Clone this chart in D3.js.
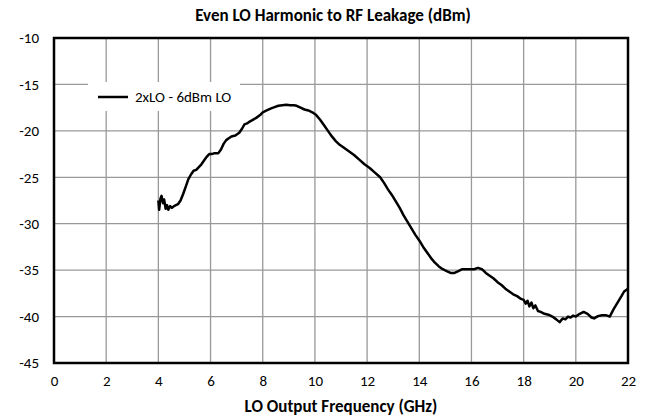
<!DOCTYPE html>
<html>
<head>
<meta charset="utf-8">
<script src="https://cdn.jsdelivr.net/npm/d3@7"></script>
<style>
  body { margin: 0; background: #fff; }
  text { font-family: Carlito, Lato, "Liberation Sans", sans-serif; }
</style>
</head>
<body>
<div id="chart"></div>
<script>
var title = "Even LO Harmonic to RF Leakage (dBm)";
var xTitle = "LO Output Frequency (GHz)";
var seriesName = "2xLO - 6dBm LO";

var xTicks = [0, 2, 4, 6, 8, 10, 12, 14, 16, 18, 20, 22];
var yTicks = [-10, -15, -20, -25, -30, -35, -40, -45];

// LO frequency (GHz) and leakage (dBm)
var freq = [4.0, 4.03, 4.08, 4.12, 4.18, 4.22, 4.28, 4.33, 4.38, 4.45, 4.52, 4.6, 4.75, 4.85, 4.95,
  5.05, 5.15, 5.25, 5.35, 5.45, 5.55, 5.65, 5.75, 5.85, 5.95, 6.05, 6.15, 6.3, 6.4, 6.5, 6.6, 6.7,
  6.8, 6.95, 7.1, 7.2, 7.3, 7.4, 7.5, 7.6, 7.75, 7.9, 8.0, 8.15, 8.3, 8.45, 8.6, 8.75, 8.9, 9.05,
  9.2, 9.3, 9.45, 9.6, 9.75, 9.9, 10.05, 10.2, 10.35, 10.5, 10.65, 10.8, 10.95, 11.1, 11.3, 11.5,
  11.7, 11.9, 12.1, 12.3, 12.5, 12.65, 12.8, 12.95, 13.1, 13.25, 13.4, 13.55, 13.7, 13.85, 14.0,
  14.15, 14.3, 14.45, 14.6, 14.75, 14.9, 15.05, 15.2, 15.35, 15.5, 15.65, 15.8, 15.95, 16.1, 16.25,
  16.4, 16.55, 16.7, 16.85, 17.0, 17.15, 17.3, 17.45, 17.6, 17.75, 17.9, 18.0, 18.08, 18.15, 18.22,
  18.3, 18.37, 18.45, 18.55, 18.65, 18.8, 18.95, 19.1, 19.25, 19.38, 19.5, 19.6, 19.7, 19.8, 19.9,
  20.0, 20.15, 20.3, 20.45, 20.6, 20.7, 20.85, 21.0, 21.15, 21.3, 21.45, 21.6, 21.75, 21.85, 22.0];
var leakage = [-27.5, -28.5, -27.3, -27.0, -27.8, -27.4, -28.4, -28.0, -28.5, -28.1, -28.3, -28.1, -27.9, -27.5, -26.8,
  -26.0, -25.2, -24.7, -24.3, -24.2, -23.9, -23.6, -23.2, -22.8, -22.5, -22.5, -22.4, -22.4, -22.0, -21.4, -21.0, -20.8,
  -20.6, -20.5, -20.2, -19.8, -19.3, -19.2, -19.0, -18.85, -18.6, -18.3, -18.0, -17.8, -17.6, -17.45, -17.3, -17.25, -17.2, -17.25,
  -17.25, -17.3, -17.5, -17.7, -17.8, -18.0, -18.3, -18.8, -19.4, -20.0, -20.6, -21.1, -21.5, -21.8, -22.2, -22.6,
  -23.1, -23.6, -24.0, -24.5, -25.0, -25.6, -26.3, -26.9, -27.6, -28.3, -29.1, -29.8, -30.5, -31.2, -31.8,
  -32.5, -33.1, -33.7, -34.2, -34.6, -34.9, -35.1, -35.3, -35.3, -35.1, -34.9, -34.9, -34.9, -34.9, -34.75,
  -34.9, -35.3, -35.6, -35.9, -36.3, -36.6, -37.0, -37.3, -37.6, -37.8, -38.1, -38.2, -38.6, -38.3, -38.9,
  -38.5, -39.1, -38.8, -39.4, -39.5, -39.7, -39.8, -40.0, -40.3, -40.6, -40.2, -40.3, -40.0, -40.1, -39.9,
  -40.0, -39.7, -39.5, -39.7, -40.1, -40.2, -39.95, -39.85, -39.85, -40.0, -39.2, -38.5, -37.8, -37.3, -37.0];

var width = 649, height = 418;
var margin = {left: 54, right: 21, top: 38, bottom: 55};
var font = "Carlito, Lato, 'Liberation Sans', sans-serif";

var svg = d3.select("#chart").append("svg")
  .attr("width", width)
  .attr("height", height);

var x = d3.scaleLinear().domain([0, 22]).range([margin.left, width - margin.right]);
var y = d3.scaleLinear().domain([-45, -10]).range([height - margin.bottom, margin.top]);

// grid
svg.append("g").selectAll("line")
  .data(xTicks.slice(1, -1))
  .enter().append("line")
  .attr("x1", function(d) { return x(d); })
  .attr("x2", function(d) { return x(d); })
  .attr("y1", y(-10))
  .attr("y2", y(-45))
  .style("stroke", "#999")
  .style("stroke-width", 1.3);

svg.append("g").selectAll("line")
  .data(yTicks.slice(1, -1))
  .enter().append("line")
  .attr("x1", x(0))
  .attr("x2", x(22))
  .attr("y1", function(d) { return y(d); })
  .attr("y2", function(d) { return y(d); })
  .style("stroke", "#999")
  .style("stroke-width", 1.3);

// axes labels (plain hyphen like the original, not d3's minus sign)
var xAxis = d3.axisBottom(x).tickValues(xTicks).tickSize(0).tickPadding(12)
  .tickFormat(function(d) { return String(d); });
svg.append("g")
  .attr("transform", "translate(0," + y(-45) + ")")
  .call(xAxis)
  .call(function(g) { g.select(".domain").remove(); })
  .selectAll("text")
  .attr("font-size", "15px")
  .attr("fill", "#000")
  .style("font-family", font);

var yAxis = d3.axisLeft(y).tickValues(yTicks).tickSize(0).tickPadding(15)
  .tickFormat(function(d) { return String(d); });
svg.append("g")
  .attr("transform", "translate(" + x(0) + ",0)")
  .call(yAxis)
  .call(function(g) { g.select(".domain").remove(); })
  .selectAll("text")
  .attr("font-size", "15px")
  .attr("fill", "#000")
  .style("font-family", font);

// plot frame
svg.append("rect")
  .attr("x", x(0))
  .attr("y", y(-10))
  .attr("width", x(22) - x(0))
  .attr("height", y(-45) - y(-10))
  .style("fill", "none")
  .style("stroke", "#000")
  .style("stroke-width", 2.5);

// legend box covers the grid
var legend = svg.append("g");
legend.append("rect")
  .attr("x", 88).attr("y", 82)
  .attr("width", 152).attr("height", 29)
  .style("fill", "#fff");
legend.append("line")
  .attr("x1", 98).attr("x2", 128)
  .attr("y1", 97).attr("y2", 97)
  .style("stroke", "#000")
  .style("stroke-width", 2.5);
legend.append("text")
  .attr("x", 135).attr("y", 102)
  .attr("font-size", "15px")
  .text(seriesName);

// series line
var line = d3.line()
  .x(function(d) { return x(d[0]); })
  .y(function(d) { return y(d[1]); });

svg.append("path")
  .datum(d3.zip(freq, leakage))
  .attr("d", line)
  .style("fill", "none")
  .style("stroke", "#000")
  .style("stroke-width", 2.5)
  .style("stroke-linejoin", "round");

// titles
svg.append("text")
  .attr("x", 333).attr("y", 21)
  .attr("text-anchor", "middle")
  .attr("font-size", "17px")
  .attr("font-weight", "bold")
  .text(title);

svg.append("text")
  .attr("x", 341).attr("y", 412)
  .attr("text-anchor", "middle")
  .attr("font-size", "17px")
  .attr("font-weight", "bold")
  .text(xTitle);
</script>
</body>
</html>
